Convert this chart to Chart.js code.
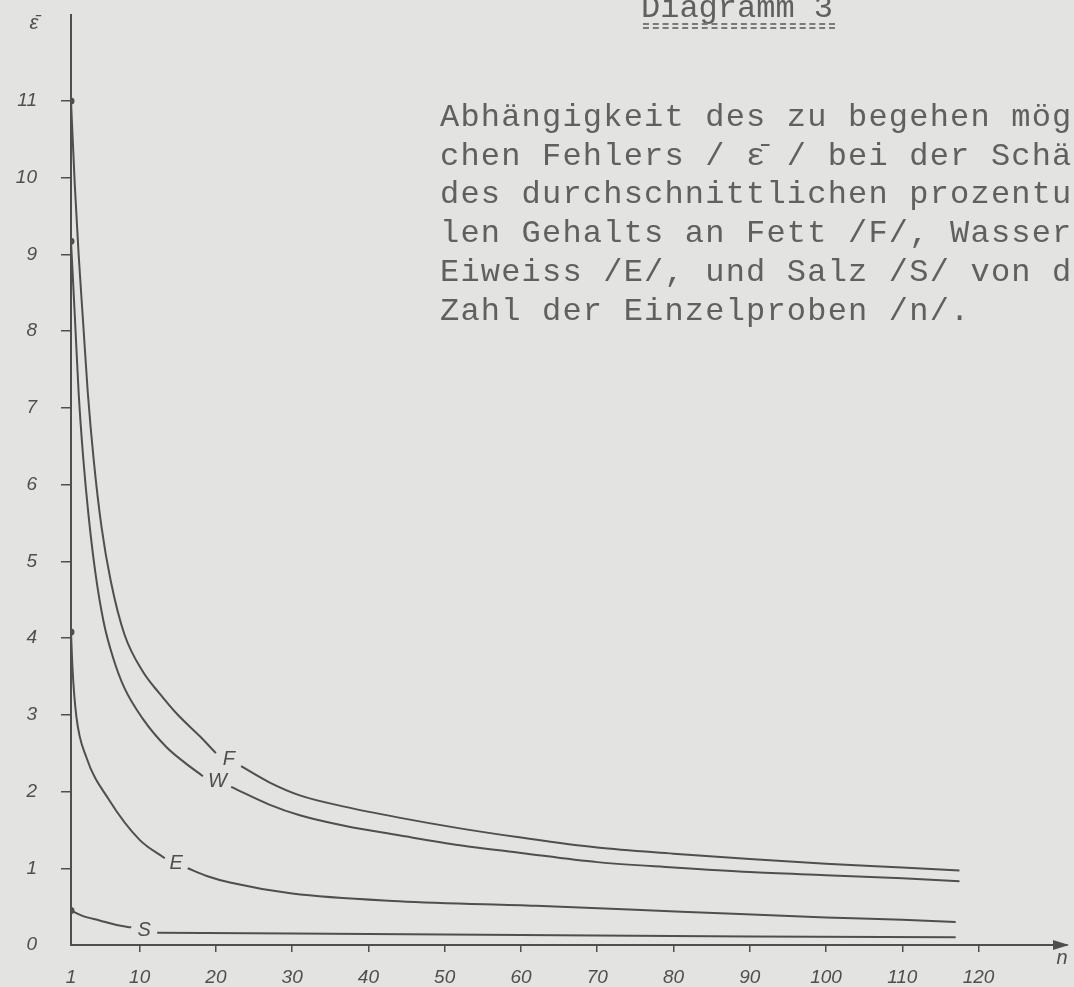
<!DOCTYPE html>
<html lang="de">
<head>
<meta charset="UTF-8">
<title>Diagramm 3</title>
<style>
html, body {
    margin: 0;
    padding: 0;
    background: #e3e3e1;
    overflow: hidden;
}
#wrap {
    position: relative;
    width: 1074px;
    height: 987px;
}
#chart {
    position: absolute;
    left: 0;
    top: 0;
}
.typed {
    position: absolute;
    font-family: 'Liberation Mono', monospace;
    font-size: 32px;
    letter-spacing: 1.2px;
    line-height: 38.7px;
    color: #606060;
    white-space: pre;
}
#head { left: 641px; top: -10px; letter-spacing: 0; }
#rule {
    position: absolute;
    left: 643px;
    top: 23px;
    width: 192px;
    height: 2px;
    border-top: 2px dashed #7a7a7a;
    border-bottom: 2px dashed #7a7a7a;
}
#caption { left: 440px; top: 99px; }
</style>
<script src="https://cdn.jsdelivr.net/npm/chart.js"></script>
</head>
<body>
<div id="wrap">
    <canvas id="chart" width="1074" height="987"></canvas>
    <div class="typed" id="head">Diagramm 3</div>
    <div id="rule"></div>
    <div class="typed" id="caption">Abhängigkeit des zu begehen mög
chen Fehlers / ε̄ / bei der Schä
des durchschnittlichen prozentu
len Gehalts an Fett /F/, Wasser
Eiweiss /E/, und Salz /S/ von d
Zahl der Einzelproben /n/.</div>
</div>

<script>
// values (n = number of samples, value = error in %)
// null marks the break where the curve letter sits
const nF   = [1, 1.5, 2, 2.6, 3.2, 4, 5, 6.2, 8, 10.5, 12.6, 15, 17.9, 20, 21.7, 23.3, 27, 31, 37, 44, 52, 60, 70, 80, 90, 100, 110, 117.5];
const valF = [11, 9.9, 9.0, 8.1, 7.2, 6.3, 5.45, 4.75, 4.05, 3.55, 3.28, 3.0, 2.72, 2.5, null, 2.33, 2.12, 1.95, 1.8, 1.66, 1.52, 1.4, 1.27, 1.19, 1.12, 1.06, 1.01, 0.97];

const nW   = [1, 1.5, 2, 2.6, 3.3, 4.2, 5.3, 6.5, 8, 10.4, 13.5, 16, 18.3, 20.2, 22, 27, 31, 37, 44, 52, 60, 70, 80, 90, 100, 110, 117.5];
const valW = [9.17, 8.2, 7.2, 6.35, 5.6, 4.85, 4.2, 3.75, 3.35, 2.95, 2.58, 2.37, 2.2, null, 2.06, 1.83, 1.69, 1.55, 1.43, 1.3, 1.2, 1.08, 1.01, 0.95, 0.91, 0.87, 0.83];

const nE   = [1, 1.2, 1.7, 3, 6, 10, 13.3, 14.8, 16.3, 18.8, 22, 30, 44, 62, 75, 87, 100, 110, 117];
const valE = [4.08, 3.6, 2.98, 2.45, 1.89, 1.37, 1.13, null, 1.0, 0.9, 0.81, 0.67, 0.57, 0.51, 0.46, 0.41, 0.36, 0.33, 0.3];

const nS   = [1, 2.5, 4.75, 7, 8.9, 10.6, 12.3, 30, 60, 90, 117];
const valS = [0.45, 0.38, 0.32, 0.26, 0.23, null, 0.16, 0.15, 0.13, 0.11, 0.1];

const curveNames = ['F', 'W', 'E', 'S'];
const xTicks = [1, 10, 20, 30, 40, 50, 60, 70, 80, 90, 100, 110, 120];
const yTicks = [0, 1, 2, 3, 4, 5, 6, 7, 8, 9, 10, 11];

const ink = '#4f4f4f';
const tickFont = { family: "'Liberation Sans', sans-serif", size: 19, style: 'italic' };

function series(ns, vals, name) {
    return {
        label: name,
        data: ns.map((n, i) => ({ x: n, y: vals[i] })),
        borderColor: ink,
        backgroundColor: ink,
        borderWidth: 2,
        cubicInterpolationMode: 'monotone',
        spanGaps: false,
        pointRadius: ctx => ctx.dataIndex === 0 ? 3.5 : 0,
        pointBorderWidth: 0
    };
}

// arrow, axis letters and curve letters
const decor = {
    id: 'decor',
    afterDraw(chart) {
        const c = chart.ctx;
        const a = chart.chartArea;
        const xs = chart.scales.x, ys = chart.scales.y;
        c.save();
        c.fillStyle = ink;
        // arrow at the end of the n axis
        c.beginPath();
        c.moveTo(a.right + 2, a.bottom);
        c.lineTo(a.right - 14, a.bottom - 5);
        c.lineTo(a.right - 14, a.bottom + 5);
        c.closePath();
        c.fill();
        c.font = "italic 20px 'Liberation Sans', sans-serif";
        c.textAlign = 'center';
        c.textBaseline = 'middle';
        c.fillText('n', a.right - 5, a.bottom + 13);
        c.fillText('ε̄', a.left - 37, a.top + 8);
        // letters sit in the gap of each curve
        chart.data.datasets.forEach((ds, k) => {
            const pts = ds.data;
            const i = pts.findIndex(p => p.y === null);
            if (i < 1) return;
            const v = (pts[i - 1].y + pts[i + 1].y) / 2;
            c.fillText(curveNames[k], xs.getPixelForValue(pts[i].x), ys.getPixelForValue(v));
        });
        c.restore();
    }
};

new Chart(document.getElementById('chart').getContext('2d'), {
    type: 'line',
    data: {
        datasets: [
            series(nF, valF, 'F'),
            series(nW, valW, 'W'),
            series(nE, valE, 'E'),
            series(nS, valS, 'S')
        ]
    },
    options: {
        responsive: false,
        animation: false,
        layout: { padding: { top: 15, right: 7, left: 0, bottom: 0 } },
        plugins: {
            legend: { display: false },
            tooltip: { enabled: false }
        },
        scales: {
            x: {
                type: 'linear',
                min: 1,
                max: 131.6,
                afterBuildTicks: s => { s.ticks = xTicks.map(v => ({ value: v })); },
                afterFit: s => { s.height = 42; s.paddingLeft = 0; s.paddingRight = 0; },
                border: { color: ink, width: 2 },
                grid: {
                    drawOnChartArea: false,
                    tickLength: 7,
                    lineWidth: 1.5,
                    color: ctx => (ctx.tick && ctx.tick.value === 1) ? 'rgba(0,0,0,0)' : ink
                },
                ticks: { font: tickFont, color: ink, padding: 14, maxRotation: 0, autoSkip: false }
            },
            y: {
                min: 0,
                max: 12.12,
                afterBuildTicks: s => { s.ticks = yTicks.map(v => ({ value: v })); },
                afterFit: s => { s.width = 71; s.paddingTop = 0; s.paddingBottom = 0; },
                border: { color: ink, width: 2 },
                grid: {
                    drawOnChartArea: false,
                    tickLength: 10,
                    lineWidth: 1.5,
                    color: ctx => (ctx.tick && ctx.tick.value === 0) ? 'rgba(0,0,0,0)' : ink
                },
                ticks: { font: tickFont, color: ink, padding: 24, autoSkip: false }
            }
        }
    },
    plugins: [decor]
});
</script>
</body>
</html>
